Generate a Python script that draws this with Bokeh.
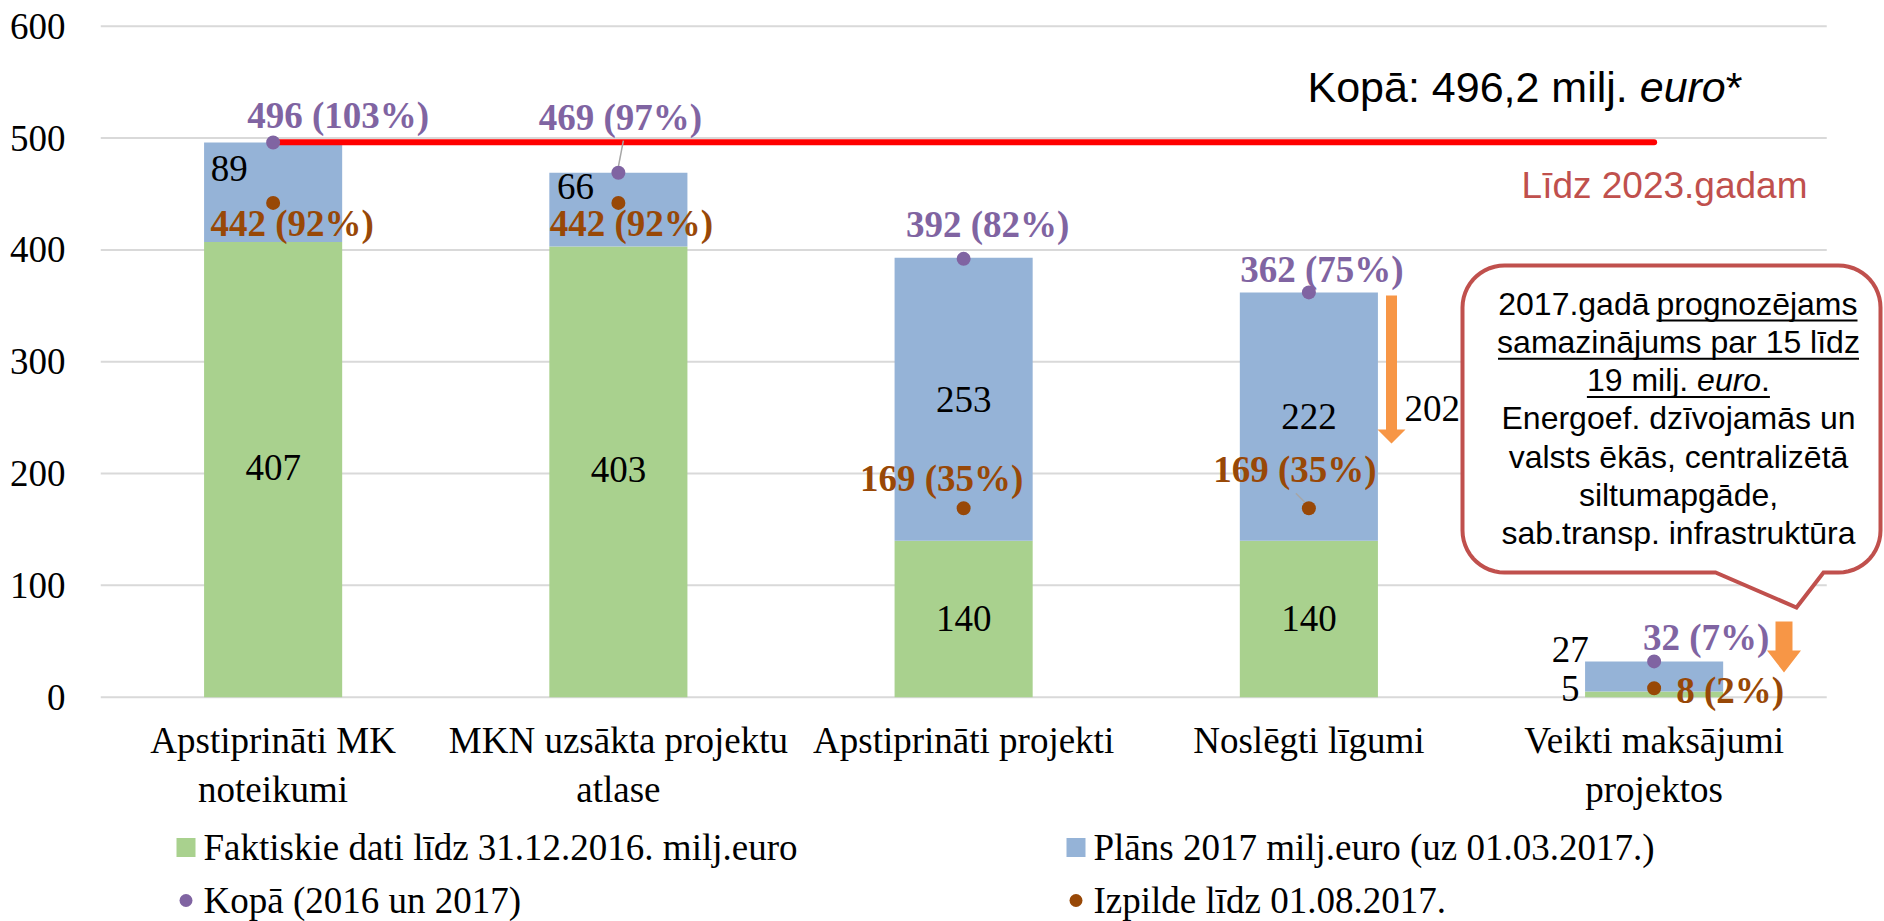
import numpy as np
from bokeh.plotting import figure
from bokeh.layouts import column
from bokeh.models import FixedTicker, ColumnDataSource
from bokeh.core.properties import value
from bokeh.embed import file_html
from bokeh.resources import INLINE

# ---------------- data ----------------
categories = ["Apstiprināti MK\nnoteikumi", "MKN uzsākta projektu\natlase",
              "Apstiprināti projekti", "Noslēgti līgumi", "Veikti maksājumi\nprojektos"]
faktiskie_2016 = [407, 403, 140, 140, 5]
plans_2017 = [89, 66, 253, 222, 27]
kopa_total = [496, 469, 392, 362, 32]
kopa_pct = [103, 97, 82, 75, 7]
izpilde = [442, 442, 169, 169, 8]
izpilde_pct = [92, 92, 35, 35, 2]
y_ticks = [0, 100, 200, 300, 400, 500, 600]
kopa_line_value = 496.2
legend_labels = ["Faktiskie dati līdz 31.12.2016. milj.euro", "Plāns 2017 milj.euro (uz 01.03.2017.)",
                 "Kopā (2016 un 2017)", "Izpilde līdz 01.08.2017."]
callout_lines = ["2017.gadā ", "prognozējams", "samazinājums par 15 līdz", "19 milj. ", "euro", ".",
                 "Energoef. dzīvojamās un", "valsts ēkās, centralizētā", "siltumapgāde,",
                 "sab.transp. infrastruktūra"]

# ---------------- geometry (page px -> data) ----------------
FRAME_LEFT = 100.0
CAT_PX = 345.25
Y0_PX = 696.7
UNIT_PX = 1.1183
FRAME_W = 1784
FRAME_TOP = 10.0
FRAME_BOTTOM = 715.0
BOTTOM_BORDER = 110
LEGEND_H = 921 - int(FRAME_BOTTOM) - BOTTOM_BORDER


def dx(px):
    return -0.5 + (px - FRAME_LEFT) / CAT_PX


def dy(py):
    return (Y0_PX - py) / UNIT_PX


SERIF = value("Liberation Serif")
SANS = value("Liberation Sans")
GREEN = "#A9D18E"
BLUE = "#95B3D7"
PURPLE = "#8064A2"
BROWN = "#984807"
ORANGE = "#F79646"
CALLOUT = "#C0504D"

p = figure(frame_width=FRAME_W, frame_height=int(FRAME_BOTTOM - FRAME_TOP),
           x_range=(-0.5, dx(FRAME_LEFT + FRAME_W)), y_range=(dy(FRAME_BOTTOM), dy(FRAME_TOP)),
           output_backend="svg", toolbar_location=None,
           min_border_left=int(FRAME_LEFT), min_border_right=0, min_border_top=int(FRAME_TOP),
           min_border_bottom=BOTTOM_BORDER)
p.outline_line_color = None
p.xgrid.visible = False
p.ygrid.visible = False
p.background_fill_color = "white"

# axes
p.yaxis.ticker = FixedTicker(ticks=y_ticks)
p.yaxis.axis_line_color = None
p.yaxis.major_tick_line_color = None
p.yaxis.minor_tick_line_color = None
p.yaxis.major_tick_out = 0
p.yaxis.major_tick_in = 0
p.yaxis.major_label_standoff = 35
p.yaxis.major_label_text_font = "Liberation Serif"
p.yaxis.major_label_text_font_size = "37px"
p.yaxis.major_label_text_color = "black"

x_idx = list(range(len(categories)))
p.xaxis.ticker = FixedTicker(ticks=x_idx)
p.xaxis.major_label_overrides = {i: c for i, c in zip(x_idx, categories)}
p.xaxis.axis_line_color = None
p.xaxis.major_tick_line_color = None
p.xaxis.minor_tick_line_color = None
p.xaxis.major_tick_out = 0
p.xaxis.major_tick_in = 0
p.xaxis.major_label_standoff = 4
p.xaxis.major_label_text_font = "Liberation Serif"
p.xaxis.major_label_text_font_size = "37px"
p.xaxis.major_label_text_color = "black"

# gridlines (stop at the category area)
p.segment(x0=-0.5, x1=len(categories) - 0.5, y0=y_ticks, y1=y_ticks, line_color="#D9D9D9", line_width=2)

# bars
top_total = [g + b for g, b in zip(faktiskie_2016, plans_2017)]
src = ColumnDataSource(dict(x=x_idx, g=faktiskie_2016, b=plans_2017, top=top_total,
                            gmid=[g / 2 for g in faktiskie_2016],
                            bmid=[g + b / 2 for g, b in zip(faktiskie_2016, plans_2017)]))
p.vbar(x="x", bottom=0, top="g", width=0.4, fill_color=GREEN, line_color=None, source=src)
p.vbar(x="x", bottom="g", top="top", width=0.4, fill_color=BLUE, line_color=None, source=src)

# segment labels
src.data["g_txt"] = [str(v) for v in faktiskie_2016]
src.data["b_txt"] = [str(v) for v in plans_2017]
src.data["g_dx"] = [0, 0, 0, 0, -84]
src.data["g_dy"] = [-2, -2, 0, 0, -6]
src.data["b_dx"] = [-44, -43, 0, 0, -84]
src.data["b_dy"] = [-24, -23, 0, 0, -27]
p.text(x="x", y="gmid", text="g_txt", x_offset="g_dx", y_offset="g_dy", source=src,
       text_align="center", text_baseline="middle", text_font=SERIF, text_font_size="37px",
       text_color="black")
p.text(x="x", y="bmid", text="b_txt", x_offset="b_dx", y_offset="b_dy", source=src,
       text_align="center", text_baseline="middle", text_font=SERIF, text_font_size="37px",
       text_color="black")

# red total line
p.segment(x0=0, x1=len(categories) - 1, y0=kopa_line_value, y1=kopa_line_value,
          line_color="#FF0000", line_width=6, line_cap="round")

# leader lines (from dots towards labels), offsets in px
lead_i = [1, 3]
lead_v = [kopa_total[1], izpilde[3]]
lead_px = [(0, -6, 5, -32), (-4, -6, -13, -15)]
p.segment(x0=[i + a / CAT_PX for i, (a, b, c, d) in zip(lead_i, lead_px)],
          y0=[v - b / UNIT_PX for v, (a, b, c, d) in zip(lead_v, lead_px)],
          x1=[i + c / CAT_PX for i, (a, b, c, d) in zip(lead_i, lead_px)],
          y1=[v - d / UNIT_PX for v, (a, b, c, d) in zip(lead_v, lead_px)],
          line_color="#A6A6A6", line_width=1.5)

# dots
p.scatter(x=x_idx, y=kopa_total, size=14, fill_color=PURPLE, line_color=None)
p.scatter(x=x_idx, y=izpilde, size=14, fill_color=BROWN, line_color=None)

# value labels
lab = ColumnDataSource(dict(
    x=x_idx, k=kopa_total, i=izpilde,
    kt=[f"{v} ({pc}%)" for v, pc in zip(kopa_total, kopa_pct)],
    it=[f"{v} ({pc}%)" for v, pc in zip(izpilde, izpilde_pct)],
    kdx=[65, 2, 24, 13, 52], kdy=[-27, -55, -34, -23, -24],
    idx=[19, 13, -22, -14, 76], idy=[21, 21, -30, -39, 2]))
p.text(x="x", y="k", text="kt", x_offset="kdx", y_offset="kdy", source=lab,
       text_align="center", text_baseline="middle", text_font=SERIF, text_font_size="37px",
       text_font_style="bold", text_color=PURPLE)
p.text(x="x", y="i", text="it", x_offset="idx", y_offset="idy", source=lab,
       text_align="center", text_baseline="middle", text_font=SERIF, text_font_size="37px",
       text_font_style="bold", text_color=BROWN)

# "Kopā: 496,2 milj. euro*"
kx = 1307.0
ky = dy(86)
fs = 43
p.text(x=[dx(kx)], y=[ky], text=["Kopā: 496,2 milj. "], text_align="left", text_baseline="middle",
       text_font=SANS, text_font_size=f"{fs}px", text_color="black")
p.text(x=[dx(kx + 7.726 * fs)], y=[ky], text=["euro"], text_align="left", text_baseline="middle",
       text_font=SANS, text_font_size=f"{fs}px", text_font_style="italic", text_color="black")
p.text(x=[dx(kx + 9.727 * fs)], y=[ky], text=["*"], text_align="left", text_baseline="middle",
       text_font=SANS, text_font_size=f"{fs}px", text_color="black")
p.text(x=[dx(1807)], y=[dy(185)], text=["Līdz 2023.gadam"], text_align="right", text_baseline="middle",
       text_font=SANS, text_font_size="37px", text_color=CALLOUT)

# orange arrows


def arrow(cx, top, head_start, tip, half_shaft, half_head):
    xs = [cx - half_shaft, cx + half_shaft, cx + half_shaft, cx + half_head, cx, cx - half_head, cx - half_shaft]
    ys = [top, top, head_start, head_start, tip, head_start, head_start]
    return [dx(v) for v in xs], [dy(v) for v in ys]


for args in [(1391, 295, 429, 443, 5.5, 14), (1783.5, 621, 650, 672, 8.5, 17)]:
    axs, ays = arrow(*args)
    p.patch(axs, ays, fill_color=ORANGE, line_color=None)

p.text(x=[dx(1404)], y=[dy(408)], text=["202"], text_align="left", text_baseline="middle",
       text_font=SERIF, text_font_size="37px", text_color="black")

# callout bubble
L, T, R, B, rad = 1462.0, 265.0, 1880.0, 572.0, 42.0
pts = []


def arc(cx, cy, a0, a1):
    for a in np.linspace(np.radians(a0), np.radians(a1), 14):
        pts.append((cx + rad * np.cos(a), cy + rad * np.sin(a)))


arc(L + rad, T + rad, 180, 270)
arc(R - rad, T + rad, 270, 360)
arc(R - rad, B - rad, 0, 90)
pts += [(1823, B), (1796, 607), (1715, B)]
arc(L + rad, B - rad, 90, 180)
p.patch([dx(a) for a, b in pts], [dy(b) for a, b in pts], fill_color="white",
        line_color=CALLOUT, line_width=4, line_join="miter")

cfs = 32
cxc = 1678.0
line_y = [303 + 38.3 * k for k in range(7)]


def ctext(x, py, t, align="center", style="normal"):
    p.text(x=[dx(x)], y=[dy(py)], text=[t], text_align=align, text_baseline="middle",
           text_font=SANS, text_font_size=f"{cfs}px", text_font_style=style, text_color="black")


def uline(x0, x1, py):
    p.segment(x0=[dx(x0)], x1=[dx(x1)], y0=[dy(py + 17)], y1=[dy(py + 17)], line_color="black", line_width=2)


# line 1
ctext(1649, line_y[0], callout_lines[0].strip(), align="right")
ctext(1656, line_y[0], callout_lines[1], align="left")
uline(1656, 1857, line_y[0])
# line 2
ctext(cxc, line_y[1], callout_lines[2])
uline(cxc - 180.5, cxc + 180.5, line_y[1])
# line 3
x3 = cxc - 91.6
ctext(x3, line_y[2], callout_lines[3], align="left")
ctext(x3 + 110.2, line_y[2], callout_lines[4], align="left", style="italic")
ctext(x3 + 174.2, line_y[2], callout_lines[5], align="left")
uline(x3, x3 + 183, line_y[2])
# lines 4-7
for k, t in enumerate(callout_lines[6:]):
    ctext(cxc, line_y[3 + k], t)

# ---------------- legend strip (own figure, page-pixel coordinates, y downward) ----------------
top0 = FRAME_BOTTOM + BOTTOM_BORDER
q = figure(frame_width=FRAME_W, frame_height=LEGEND_H,
           x_range=(FRAME_LEFT, FRAME_LEFT + FRAME_W), y_range=(top0 + LEGEND_H, top0),
           output_backend="svg", toolbar_location=None,
           min_border_left=int(FRAME_LEFT), min_border_right=0, min_border_top=0, min_border_bottom=0)
q.axis.visible = False
q.xgrid.visible = False
q.ygrid.visible = False
q.outline_line_color = None

key_x = [185.5, 1075.5]
text_x = [203, 1093]
row_y = [847, 900]
q.rect(x=key_x, y=[row_y[0]] * 2, width=19, height=19, fill_color=[GREEN, BLUE], line_color=None)
q.scatter(x=key_x, y=[row_y[1]] * 2, size=13, fill_color=[PURPLE, BROWN], line_color=None)
q.text(x=text_x + text_x, y=[row_y[0]] * 2 + [row_y[1]] * 2, text=legend_labels,
       text_align="left", text_baseline="middle", text_font=SERIF, text_font_size="37px",
       text_color="black")

layout = column(p, q, spacing=0)
open("out.html", "w").write(file_html(layout, INLINE))
